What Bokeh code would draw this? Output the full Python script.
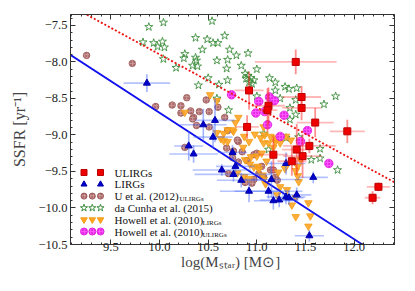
import numpy as np
from bokeh.plotting import figure
from bokeh.models import Range1d, LinearAxis, FixedTicker, Label
from bokeh.embed import file_html
from bokeh.resources import INLINE

# ---------------- data ----------------
# ULIRGs (this work)
ulirg_x = [11.40, 10.92, 11.46, 11.12, 11.46, 11.11, 11.60, 10.90, 11.93, 11.41, 11.54, 11.47, 11.36, 11.17, 12.25, 12.19]
ulirg_y = [-8.00, -8.39, -8.48, -8.60, -8.63, -8.66, -8.83, -8.89, -8.95, -9.20, -9.15, -9.29, -9.36, -9.27, -9.71, -9.86]
ulirg_xerr = [0.42, 0.15, 0.20, 0.17, 0.20, 0.10, 0.19, 0.12, 0.18, 0.15, 0.27, 0.20, 0.15, 0.15, 0.12, 0.08]
ulirg_yerr = [0.17, 0.26, 0.15, 0.25, 0.17, 0.30, 0.20, 0.16, 0.16, 0.35, 0.10, 0.30, 0.20, 0.25, 0.06, 0.09]

# LIRGs (this work)
lirg_x = [9.87, 10.45, 10.57, 10.55, 10.30, 10.35, 10.75, 10.64, 10.78, 10.76, 10.84, 10.92, 11.12, 11.15, 11.17, 11.23, 11.30, 11.33, 11.41, 11.30, 11.58, 11.54]
lirg_y = [-8.29, -8.86, -8.80, -9.03, -9.15, -9.26, -9.24, -9.48, -9.43, -9.54, -9.62, -9.77, -9.77, -9.61, -9.90, -9.89, -9.85, -9.86, -9.82, -9.39, -9.58, -10.38]
lirg_xerr = [0.24, 0.24, 0.20, 0.20, 0.15, 0.25, 0.15, 0.30, 0.20, 0.40, 0.25, 0.30, 0.35, 0.30, 0.20, 0.20, 0.20, 0.15, 0.15, 0.20, 0.15, 0.15]
lirg_yerr = [0.12, 0.22, 0.30, 0.15, 0.20, 0.12, 0.10, 0.08, 0.10, 0.10, 0.10, 0.15, 0.10, 0.25, 0.12, 0.10, 0.10, 0.10, 0.10, 0.15, 0.08, 0.08]

# U et al. (2012) ULIRGs
u12_x = [9.25, 9.72, 9.96, 10.13, 10.22, 10.28, 10.32, 10.41, 10.35, 10.38, 10.48, 10.51, 10.60, 10.67, 10.22, 10.34, 10.26, 10.70, 10.81, 10.76,
         10.85, 10.75, 10.81, 10.90, 10.69, 10.80, 10.71, 10.88, 10.97, 11.07, 11.19, 11.21, 11.02, 11.05, 10.97, 11.00, 11.14, 11.17, 10.95, 10.51]
u12_y = [-7.91, -8.02, -8.61, -8.59, -8.60, -8.49, -8.67, -8.68, -8.76, -8.87, -8.52, -8.68, -8.62, -8.76, -8.70, -8.78, -9.17, -8.94, -9.09, -9.22,
         -9.23, -9.31, -9.37, -9.35, -9.18, -9.07, -9.53, -9.65, -9.61, -9.58, -9.58, -9.62, -9.53, -9.43, -9.27, -9.25, -9.48, -9.48, -9.66, -8.89]

# da Cunha et al. (2015)
dc15_x = [9.89, 10.04, 9.83, 9.94, 10.03, 9.98, 10.05, 10.04, 10.17, 10.26, 10.25, 10.37, 10.38, 10.34, 10.39, 10.44, 10.54, 10.37, 10.49, 10.55,
          10.60, 10.67, 10.59, 10.70, 10.40, 10.50, 10.61, 10.70, 10.71, 10.59, 10.72, 10.79, 10.91, 10.69, 10.84, 11.00, 10.88, 10.91, 10.94, 10.97,
          10.92, 10.89, 10.95, 11.13, 11.19, 11.29, 11.33, 11.41, 11.19, 11.24, 11.40, 11.81, 11.69, 11.34, 11.40, 11.34, 11.65, 11.65, 11.43, 11.07,
          11.30, 11.56, 11.83, 11.00, 11.12, 11.24]
dc15_y = [-7.52, -7.46, -7.73, -7.74, -7.72, -7.79, -7.80, -7.96, -8.08, -7.89, -7.95, -7.94, -7.98, -8.05, -8.06, -7.83, -7.44, -7.67, -7.69, -7.74,
          -7.74, -7.64, -7.98, -7.97, -8.32, -8.22, -8.31, -8.25, -8.66, -8.50, -7.83, -7.91, -7.88, -8.09, -8.05, -8.10, -8.16, -8.19, -8.22, -8.25,
          -8.28, -8.23, -8.30, -8.22, -8.28, -8.34, -8.37, -8.36, -8.39, -8.50, -8.52, -8.47, -8.58, -8.63, -8.72, -8.79, -9.19, -9.32, -9.03, -8.98,
          -9.04, -9.34, -9.48, -8.47, -9.20, -9.04]

# Howell et al. (2010) LIRGs
h10l_x = [10.52, 10.59, 10.26, 10.78, 10.81, 10.70, 10.76, 10.63, 10.66, 10.70, 10.92, 10.98, 10.86, 11.08, 11.14, 11.19, 11.07, 11.12, 11.17, 11.00,
          11.05, 11.10, 10.88, 10.93, 10.59, 10.66, 10.75, 10.87, 11.04, 11.24, 11.30, 11.35, 11.42, 11.40, 11.42, 11.43, 11.45, 10.94, 11.01, 11.06,
          11.07, 11.24, 11.31, 11.40, 11.53, 11.40, 11.55, 11.53, 11.36, 11.21, 10.80, 10.87, 10.97, 11.02, 11.22, 11.29, 11.09, 10.92, 11.19, 11.07]
h10l_y = [-8.45, -8.53, -8.69, -8.83, -8.76, -8.93, -8.95, -9.05, -9.08, -9.09, -9.09, -8.99, -9.17, -9.00, -9.02, -9.09, -9.11, -9.11, -9.17, -9.29,
          -9.25, -9.36, -9.34, -9.40, -8.97, -8.98, -8.93, -9.02, -9.04, -9.11, -9.02, -9.07, -9.43, -9.49, -9.56, -9.64, -9.34, -9.30, -9.43, -9.55,
          -9.61, -9.71, -9.75, -9.86, -9.93, -10.12, -10.11, -10.25, -9.96, -9.82, -9.52, -9.57, -9.44, -9.47, -9.51, -9.46, -9.67, -9.60, -9.04, -8.89]

# Howell et al. (2010) ULIRGs
h10u_x = [10.74, 11.02, 11.13, 11.18, 10.99, 11.08, 11.28, 11.11, 11.24, 11.45, 11.52, 11.74]
h10u_y = [-8.45, -8.54, -8.48, -8.53, -8.70, -8.68, -8.73, -8.86, -9.02, -9.09, -8.94, -9.39]

# reference lines
blue_line_x = [9.0, 12.5]
blue_line_y = [-7.83, -10.86]
red_line_x = [9.0, 12.5]
red_line_y = [-7.17, -9.71]

# ticks
x_ticks = [9.5, 10.0, 10.5, 11.0, 11.5, 12.0]
x_tick_labels = ["9.5", "10.0", "10.5", "11.0", "11.5", "12.0"]
y_ticks = [-10.5, -10.0, -9.5, -9.0, -8.5, -8.0, -7.5]
y_tick_labels = ["\u221210.5", "\u221210.0", "\u22129.5", "\u22129.0", "\u22128.5", "\u22128.0", "\u22127.5"]

legend_labels = ["ULIRGs", "LIRGs", "U et al. (2012)", "da Cunha et al. (2015)", "Howell et al. (2010)", "Howell et al. (2010)"]
legend_subs = ["", "", "ULIRGs", "", "LIRGs", "ULIRGs"]

# ---------------- figure ----------------
X_RANGE = (9.085, 12.415)
Y_RANGE = (-10.5, -7.35)
W, H = 414, 290
BL, BR, BT, BB = 70, 20, 14, 46
FONT = "Liberation Serif"

p = figure(width=W, height=H, x_range=Range1d(*X_RANGE), y_range=Range1d(*Y_RANGE),
           output_backend="svg", toolbar_location=None,
           min_border_left=BL, min_border_right=BR, min_border_top=BT, min_border_bottom=BB,
           x_axis_location=None, y_axis_location=None)
p.grid.visible = False
p.outline_line_color = "#333333"
p.outline_line_width = 1
p.background_fill_color = "white"
p.border_fill_color = "white"

xt = FixedTicker(ticks=x_ticks, minor_ticks=list(np.round(np.arange(9.1, 12.41, 0.1), 2)))
yt = FixedTicker(ticks=y_ticks, minor_ticks=list(np.round(np.arange(-10.5, -7.34, 0.1), 2)))

def make_axis(ticker, ticks, labels=None):
    ax = LinearAxis(ticker=ticker)
    ax.major_tick_in = 5
    ax.major_tick_out = 0
    ax.minor_tick_in = 2
    ax.minor_tick_out = 0
    ax.axis_line_color = "#333333"
    ax.major_tick_line_color = "#333333"
    ax.minor_tick_line_color = "#333333"
    if labels is None:
        ax.major_label_overrides = {v: "" for v in ticks}
        ax.major_label_text_font_size = "1px"
        ax.major_label_text_color = None
        ax.major_label_standoff = 0
    else:
        ax.major_label_overrides = {v: s for v, s in zip(ticks, labels)}
        ax.major_label_text_font = FONT
        ax.major_label_text_font_size = "12.5px"
        ax.major_label_text_color = "#222222"
    return ax

xb = make_axis(xt, x_ticks, x_tick_labels)
xb.axis_label = "log(M\u209b\u209c\u2090\u1d63)  [M\u2299]"
xb.axis_label_text_font = FONT
xb.axis_label_text_font_style = "normal"
xb.axis_label_text_font_size = "15px"
xb.axis_label_standoff = 0
xb.major_label_standoff = -2
p.add_layout(xb, "below")

yl = make_axis(yt, y_ticks, y_tick_labels)
yl.axis_label = "SSFR [yr\u207b\u00b9]"
yl.axis_label_text_font = FONT
yl.axis_label_text_font_style = "normal"
yl.axis_label_text_font_size = "16px"
yl.axis_label_standoff = 8
yl.major_label_standoff = 3
p.add_layout(yl, "left")

p.add_layout(make_axis(xt, x_ticks), "above")
p.add_layout(make_axis(yt, y_ticks), "right")

# ---------------- markers ----------------
p.scatter(dc15_x, dc15_y, marker="star", size=8.5, fill_color=None, line_color="#3f8f3f", line_width=0.9)
p.scatter(u12_x, u12_y, marker="circle", size=6.5, fill_color="#c99494", line_color="#9a5555", line_width=0.8,
          hatch_pattern="o", hatch_color="#9a5555", hatch_scale=3, hatch_alpha=0.6)
p.scatter(h10l_x, h10l_y, marker="inverted_triangle", size=7.5, fill_color="#ffa526", line_color="#f39c12",
          fill_alpha=0.9, line_width=0.8)
p.scatter(h10u_x, h10u_y, marker="circle", size=8.5, fill_color="#ff55ff", line_color="#dd22dd", line_width=0.8,
          hatch_pattern="o", hatch_color="#cc00cc", hatch_scale=3, hatch_alpha=0.5)

p.line(blue_line_x, blue_line_y, line_color="#1010ee", line_width=1.8)
p.line(red_line_x, red_line_y, line_color="#ee1111", line_width=1.8, line_dash="2 2")

lx, ly = np.array(lirg_x), np.array(lirg_y)
lxe, lye = np.array(lirg_xerr), np.array(lirg_yerr)
p.segment(lx - lxe, ly, lx + lxe, ly, line_color="#4466ff", line_alpha=0.4, line_width=1.6)
p.segment(lx, ly - lye, lx, ly + lye, line_color="#4466ff", line_alpha=0.5, line_width=1.6)
p.scatter(lirg_x, lirg_y, marker="triangle", size=7, fill_color="#0000cc", line_color="#0000aa")

ux, uy = np.array(ulirg_x), np.array(ulirg_y)
uxe, uye = np.array(ulirg_xerr), np.array(ulirg_yerr)
p.segment(ux - uxe, uy, ux + uxe, uy, line_color="#ff3333", line_alpha=0.35, line_width=1.8)
p.segment(ux, uy - uye, ux, uy + uye, line_color="#ff2222", line_alpha=0.5, line_width=1.8)
p.scatter(ulirg_x, ulirg_y, marker="square", size=7, fill_color="#ee0000", line_color="#bb0000")

# ---------------- legend (drawn by hand, matplotlib-style) ----------------
FW = W - BL - BR
FH = H - BT - BB
def sx(v):
    return X_RANGE[0] + v * (X_RANGE[1] - X_RANGE[0]) / FW
def sy(v):
    return Y_RANGE[0] + v * (Y_RANGE[1] - Y_RANGE[0]) / FH

rows = [72.0, 60.2, 48.4, 36.6, 24.8, 13.0]
two = [13.5, 30.0]
three = [13.5, 21.8, 30.0]
p.scatter([sx(v) for v in two], [sy(rows[0])] * 2, marker="square", size=6, fill_color="#ee0000", line_color="#bb0000")
p.scatter([sx(v) for v in two], [sy(rows[1])] * 2, marker="triangle", size=6, fill_color="#0000cc", line_color="#0000aa")
p.scatter([sx(v) for v in three], [sy(rows[2])] * 3, marker="circle", size=6, fill_color="#c99494", line_color="#9a5555",
          hatch_pattern="o", hatch_color="#9a5555", hatch_scale=3, hatch_alpha=0.6)
p.scatter([sx(v) for v in three], [sy(rows[3])] * 3, marker="star", size=7.5, fill_color=None, line_color="#3f8f3f")
p.scatter([sx(v) for v in three], [sy(rows[4])] * 3, marker="inverted_triangle", size=6.5, fill_color="#ffa526", line_color="#f39c12")
p.scatter([sx(v) for v in three], [sy(rows[5])] * 3, marker="circle", size=7, fill_color="#ff55ff", line_color="#dd22dd",
          hatch_pattern="o", hatch_color="#cc00cc", hatch_scale=3, hatch_alpha=0.5)

main_w = {"U et al. (2012)": 65, "Howell et al. (2010)": 88}
for r, lab, sub in zip(rows, legend_labels, legend_subs):
    p.add_layout(Label(x=44, y=r, x_units="screen", y_units="screen", text=lab, text_font=FONT,
                       text_font_size="11px", text_baseline="middle", text_color="#111111"))
    if sub:
        p.add_layout(Label(x=44 + main_w[lab], y=r - 3, x_units="screen", y_units="screen", text=sub,
                           text_font=FONT, text_font_size="7px", text_baseline="middle", text_color="#111111"))

open("out.html", "w").write(file_html(p, INLINE))
